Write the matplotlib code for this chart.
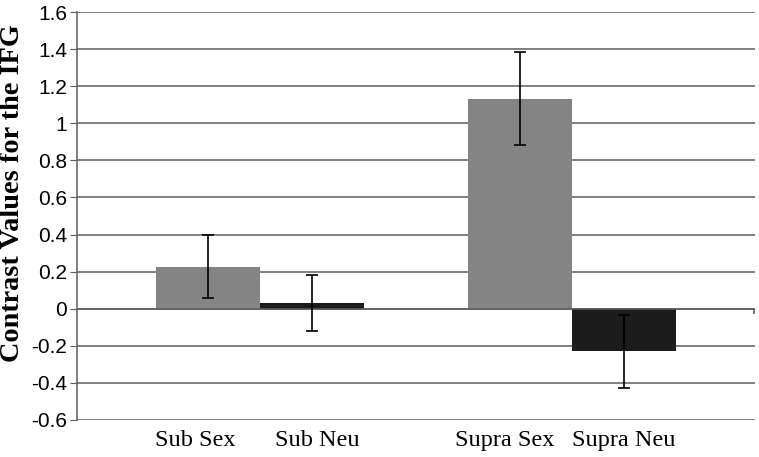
import numpy as np
import matplotlib.pyplot as plt

# Contrast values for the IFG
labels = ["Sub Sex", "Sub Neu", "Supra Sex", "Supra Neu"]
values = [0.226, 0.03, 1.132, -0.23]
errors = [0.17, 0.15, 0.25, 0.198]
colors = ["#848484", "#1c1c1c", "#848484", "#1c1c1c"]
yticks = [-0.6, -0.4, -0.2, 0, 0.2, 0.4, 0.6, 0.8, 1, 1.2, 1.4, 1.6]

# bar layout: two groups of two touching bars
x = np.array([0.76, 1.76, 3.76, 4.76]) + 0.5
label_shift = np.array([-0.12, 0.05, -0.15, 0.0])

fig = plt.figure(figsize=(7.59, 4.57), dpi=100)
ax = fig.add_axes([0.1014, 0.081, 0.8933, 0.8927])

ax.set_ylim(-0.6, 1.6)
ax.set_xlim(0, 6.52)
ax.set_yticks(yticks)
ax.set_yticklabels([f"{v:g}" for v in yticks], family="Liberation Sans", fontsize=15)
ax.yaxis.grid(True, color="#5e5e5e", linewidth=1.1)
ax.set_axisbelow(True)

ax.bar(x, values, width=1.0, color=colors, zorder=2)
ax.errorbar(x, values, yerr=errors, fmt="none", ecolor="black",
            elinewidth=1.2, capsize=4, capthick=1.2, zorder=3)

# x axis at zero
ax.axhline(0, color="#5e5e5e", linewidth=1.1, zorder=2.5)
ax.vlines(ax.get_xlim()[1] - 0.01, -0.03, 0, color="#5e5e5e", linewidth=1.2, clip_on=False)

ax.set_xticks(x + label_shift)
ax.set_xticklabels(labels, family="Liberation Serif", fontsize=17.5)
ax.tick_params(axis="x", length=0, pad=7)
ax.tick_params(axis="y", length=5, color="#5e5e5e", pad=2)

for s in ["top", "right", "bottom"]:
    ax.spines[s].set_visible(False)
ax.spines["left"].set_color("#5e5e5e")
ax.spines["left"].set_linewidth(1.1)

ax.set_ylabel("Contrast Values for the IFG", family="Liberation Serif",
              fontweight="bold", fontsize=20.3)
ax.yaxis.set_label_coords(-0.077, 0.555)

fig.savefig("out.png", dpi=100)
